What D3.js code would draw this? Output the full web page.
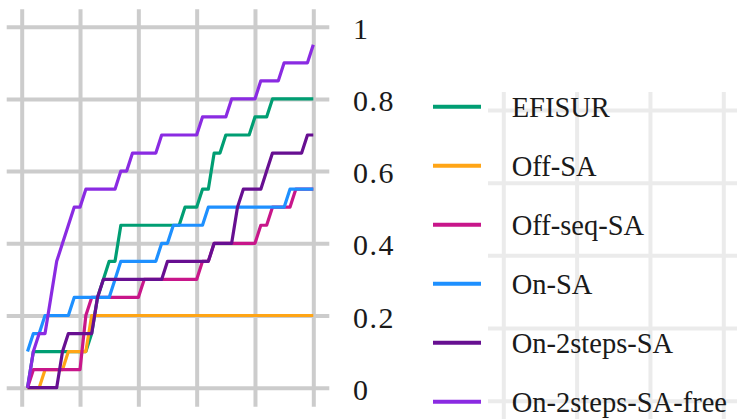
<!DOCTYPE html>
<html>
<head>
<meta charset="utf-8">
<script src="https://cdn.jsdelivr.net/npm/d3@7"></script>
<style>
  html, body { margin: 0; padding: 0; background: #ffffff; }
  svg { display: block; }
</style>
</head>
<body>
<svg id="chart" width="737" height="419"></svg>
<script>
// Budget steps (x) and the fraction of solved cases for each method (y)
const budget = [1,2,3,4,5,6,7,8,9,10,11,12,13,14,15,16,17,18,19,20,21,22,23,24,25,
                26,27,28,29,30,31,32,33,34,35,36,37,38,39,40,41,42,43,44,45,46,47,48,49,50];

const efisur = [0,0.1,0.1,0.1,0.1,0.1,0.1,0.1,0.1,0.1,0.1,0.15,0.25,0.3,0.35,0.35,
                0.45,0.45,0.45,0.45,0.45,0.45,0.45,0.45,0.45,0.45,0.45,0.5,0.5,0.5,
                0.55,0.55,0.65,0.65,0.7,0.7,0.7,0.7,0.7,0.75,0.75,0.75,
                0.8,0.8,0.8,0.8,0.8,0.8,0.8,0.8];

const offSA = [0,0,0,0.05,0.05,0.05,0.05,0.1,0.1,0.1,0.1,
               0.2,0.2,0.2,0.2,0.2,0.2,0.2,0.2,0.2,0.2,0.2,0.2,0.2,0.2,0.2,0.2,0.2,0.2,0.2,
               0.2,0.2,0.2,0.2,0.2,0.2,0.2,0.2,0.2,0.2,0.2,0.2,0.2,0.2,0.2,0.2,0.2,0.2,0.2,0.2];

const offSeqSA = [0,0.05,0.05,0.05,0.05,0.05,0.05,0.05,0.05,0.05,0.2,
                  0.25,0.25,0.25,0.25,0.25,0.25,0.25,0.25,0.25,
                  0.3,0.3,0.3,0.3,0.3,0.3,0.3,0.3,0.3,0.3,0.35,0.35,
                  0.4,0.4,0.4,0.4,0.4,0.4,0.4,0.4,0.45,0.45,
                  0.5,0.5,0.5,0.5,0.55,0.55,0.55,0.55];

const onSA = [0.1,0.15,0.15,0.2,0.2,0.2,0.2,0.2,0.25,0.25,0.25,0.25,0.25,0.25,0.25,
              0.3,0.35,0.35,0.35,0.35,0.35,0.35,0.35,0.4,0.4,
              0.45,0.45,0.45,0.45,0.45,0.45,
              0.5,0.5,0.5,0.5,0.5,0.5,0.5,0.5,0.5,0.5,0.5,0.5,0.5,0.5,
              0.55,0.55,0.55,0.55,0.55];

const on2stepsSA = [0,0,0,0,0,0,0.1,0.15,0.15,0.15,0.15,0.15,0.25,
                    0.3,0.3,0.3,0.3,0.3,0.3,0.3,0.3,0.3,0.3,0.3,
                    0.35,0.35,0.35,0.35,0.35,0.35,0.35,0.35,
                    0.4,0.4,0.4,0.4,0.5,0.55,0.55,0.55,0.55,0.6,
                    0.65,0.65,0.65,0.65,0.65,0.65,0.7,0.7];

const on2stepsSAfree = [0,0.1,0.15,0.15,0.25,0.35,0.4,0.45,0.5,0.5,
                        0.55,0.55,0.55,0.55,0.55,0.55,0.6,0.6,
                        0.65,0.65,0.65,0.65,0.65,0.7,0.7,0.7,0.7,0.7,0.7,0.7,
                        0.75,0.75,0.75,0.75,0.75,0.8,0.8,0.8,0.8,0.8,
                        0.85,0.85,0.85,0.85,0.9,0.9,0.9,0.9,0.9,0.95];

const seriesNames  = ["EFISUR", "Off-SA", "Off-seq-SA", "On-SA", "On-2steps-SA", "On-2steps-SA-free"];
const seriesValues = [efisur, offSA, offSeqSA, onSA, on2stepsSA, on2stepsSAfree];
const seriesColors = ["#009E73", "#FFA516", "#C8168A", "#1E90FF", "#670F91", "#8A2BE2"];

const xTicks = [0, 10, 20, 30, 40, 50];
const yTicks = [0, 0.2, 0.4, 0.6, 0.8, 1];
const yTickLabels = ["0", "0.2", "0.4", "0.6", "0.8", "1"];

const serif = "'Liberation Serif', 'Times New Roman', serif";
const svg = d3.select("#chart");

// ---- neighbouring panel grid, partly behind the legend ----
const x2 = d3.scaleLinear().domain([0, 3]).range([503.3, 723.3]);
const y2 = d3.scaleLinear().domain([0, 4]).range([400.7, 110]);

const g2v = svg.append("g").attr("transform", "translate(0,419)")
  .call(d3.axisTop(x2).tickValues([0, 1, 2, 3]).tickSize(327).tickFormat(""));
const g2h = svg.append("g").attr("transform", "translate(737,0)")
  .call(d3.axisLeft(y2).tickValues([0, 1, 2, 3, 4]).tickSize(249).tickFormat(""));
[g2v, g2h].forEach(g => {
  g.select(".domain").remove();
  g.selectAll("line").attr("stroke", "#ebebeb").attr("stroke-width", 4);
});

// ---- main panel ----
const x = d3.scaleLinear().domain([0, 50]).range([21.7, 313.3]);
const y = d3.scaleLinear().domain([0, 1]).range([387.7, 26.7]);

const gv = svg.append("g").attr("transform", "translate(0,9.3)")
  .call(d3.axisBottom(x).tickValues(xTicks).tickSize(397.4).tickFormat(""));
const gh = svg.append("g").attr("transform", "translate(6.7,0)")
  .call(d3.axisRight(y).tickValues(yTicks).tickSize(322.6).tickFormat(""));
[gv, gh].forEach(g => {
  g.select(".domain").remove();
  g.selectAll("line").attr("stroke", "#cccccc").attr("stroke-width", 4);
});

// y tick labels on the right
const gy = svg.append("g").attr("transform", "translate(353,0)")
  .call(d3.axisRight(y).tickValues(yTicks).tickSize(0).tickPadding(0)
          .tickFormat((d, i) => yTickLabels[i]));
gy.select(".domain").remove();
gy.selectAll("text")
  .attr("dy", null).attr("y", 11.5).attr("x", 0)
  .attr("text-anchor", "start")
  .style("font-family", serif).style("font-size", "30px")
  .style("letter-spacing", "1.5px").style("fill", "#1a1a1a");

// step curves
const line = d3.line()
  .x((d, i) => x(budget[i]))
  .y(d => y(d));

svg.append("g").selectAll("path")
  .data(seriesValues)
  .join("path")
  .attr("d", line)
  .attr("fill", "none")
  .attr("stroke", (d, i) => seriesColors[i])
  .attr("stroke-width", 3.2)
  .attr("stroke-linejoin", "round");

// ---- legend ----
const ly = d3.scalePoint().domain(seriesNames).range([106.7, 401.7]);
const legend = svg.append("g").selectAll("g")
  .data(seriesNames)
  .join("g")
  .attr("transform", d => `translate(0,${ly(d)})`);

legend.append("line")
  .attr("x1", 433).attr("x2", 481)
  .attr("stroke", (d, i) => seriesColors[i])
  .attr("stroke-width", 4);

legend.append("text")
  .attr("x", 511.7).attr("y", 10)
  .style("font-family", serif).style("font-size", "28.5px")
  .style("fill", "#1a1a1a")
  .text(d => d);
</script>
</body>
</html>
